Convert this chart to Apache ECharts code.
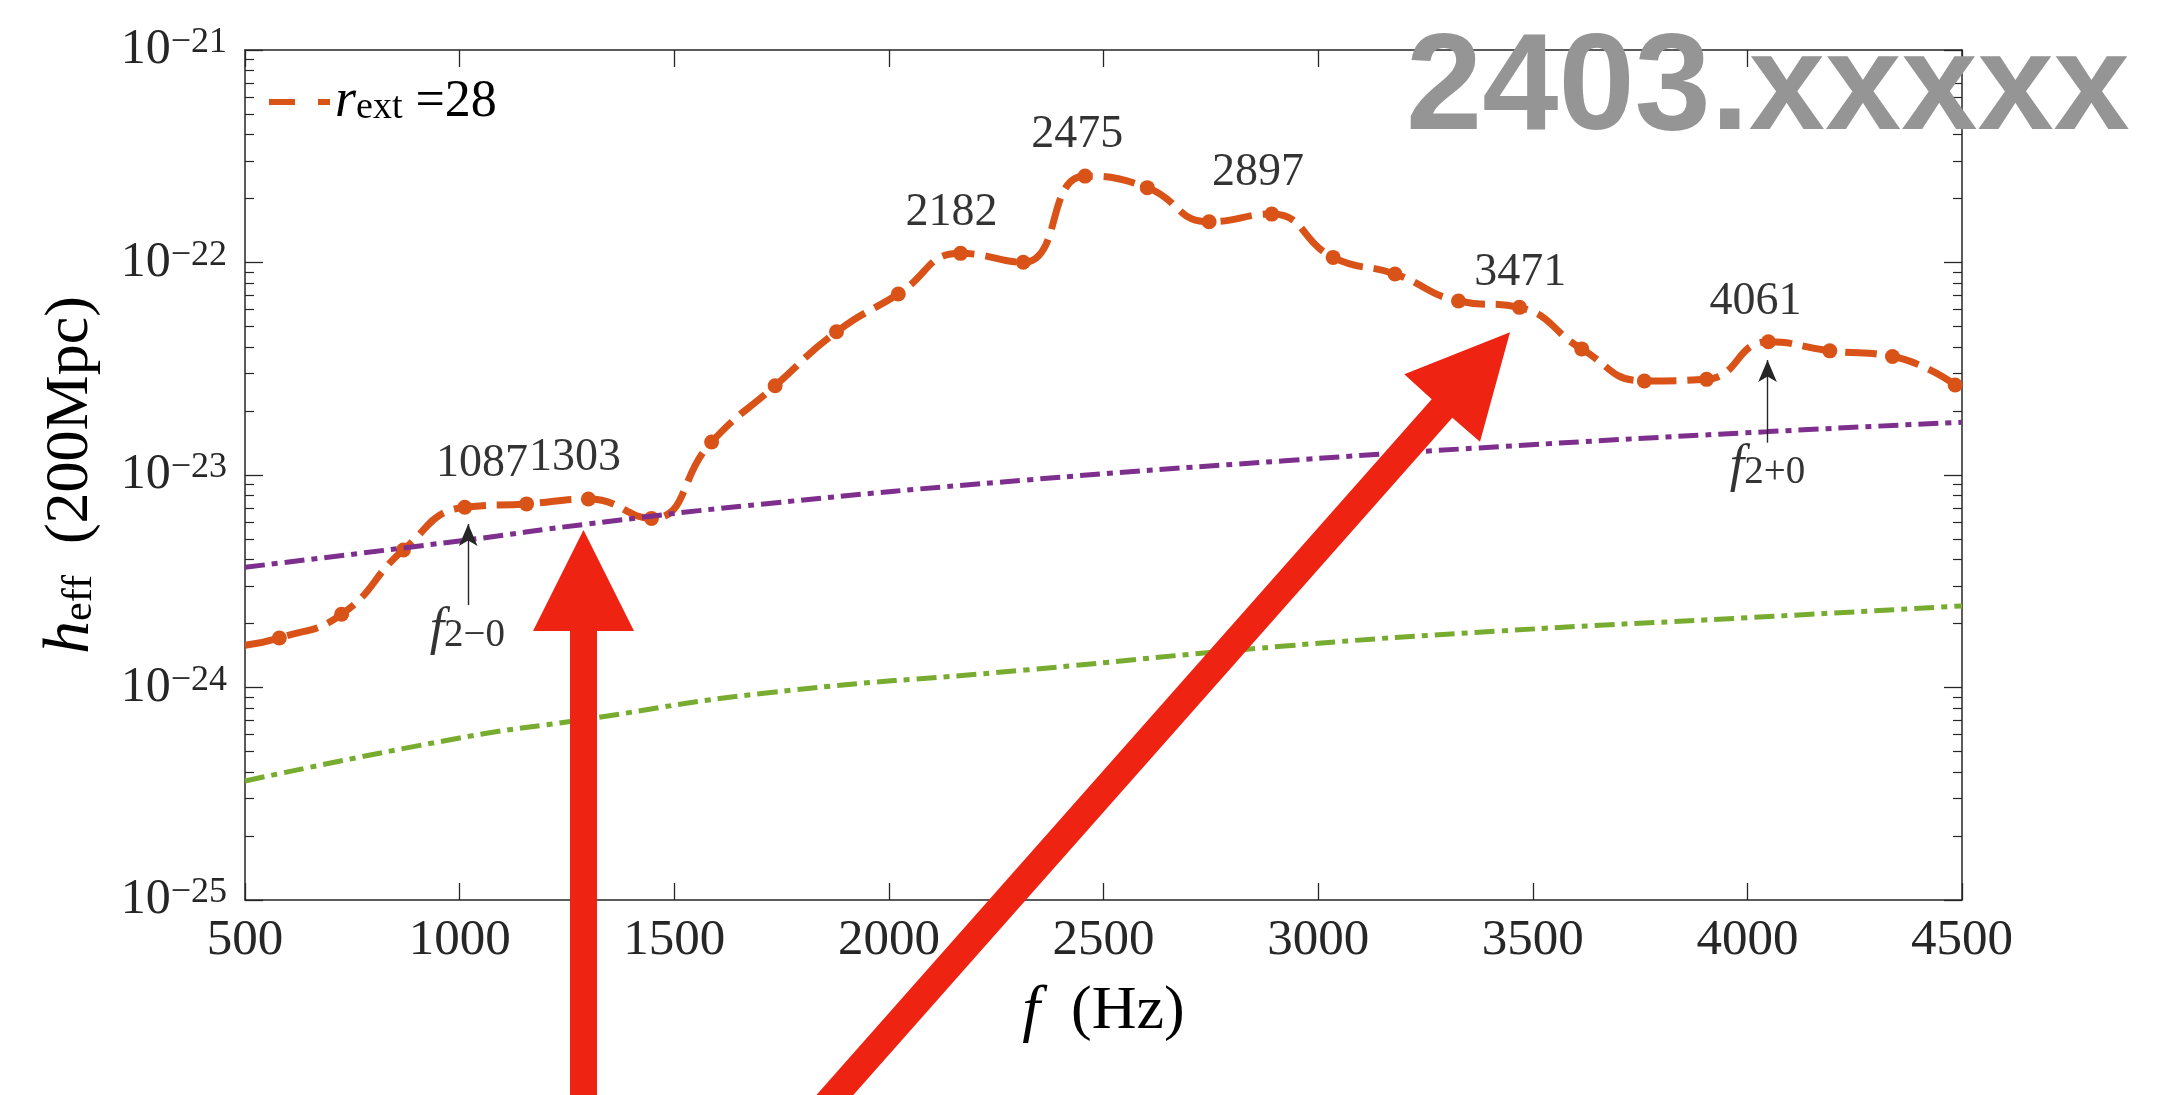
<!DOCTYPE html>
<html><head><meta charset="utf-8">
<script src="https://cdn.jsdelivr.net/npm/echarts@6/dist/echarts.min.js"></script>
<style>html,body{margin:0;padding:0;background:#fff}#c{width:2182px;height:1095px}</style>
</head><body><div id="c"></div>
<script>
// ---- data ----
const orangeF = [500, 580, 725, 869, 1012, 1156, 1300, 1447, 1587, 1735, 1878, 2022, 2167, 2313, 2457, 2602, 2746, 2892, 3035, 3179, 3327, 3469, 3614, 3760, 3905, 4049, 4192, 4338, 4484];
const orangeH = [1.58e-24, 1.71e-24, 2.21e-24, 4.44e-24, 7.05e-24, 7.31e-24, 7.71e-24, 6.25e-24, 1.43e-23, 2.63e-23, 4.72e-23, 7.11e-23, 1.104e-22, 1.002e-22, 2.55e-22, 2.25e-22, 1.555e-22, 1.69e-22, 1.057e-22, 8.83e-23, 6.59e-23, 6.15e-23, 3.92e-23, 2.77e-23, 2.82e-23, 4.24e-23, 3.84e-23, 3.61e-23, 2.65e-23];
const purpleF = [500, 1016, 1292, 1709, 2317, 2922, 3424, 4048, 4500];
const purpleH = [3.68e-24, 4.94e-24, 5.86e-24, 7.31e-24, 9.46e-24, 1.167e-23, 1.36e-23, 1.60e-23, 1.77e-23];
const greenF = [500, 997, 1292, 1709, 2317, 2922, 3424, 4000, 4500];
const greenH = [3.63e-25, 5.77e-25, 7.08e-25, 9.40e-25, 1.208e-24, 1.567e-24, 1.845e-24, 2.13e-24, 2.42e-24];
const xMin = 500, xMax = 4500, xStep = 500;
const yDecadeMin = -25, yDecadeMax = -21;
const peakText = ['1087', '1303', '2182', '2475', '2897', '3471', '4061'];
const peakF = [1052, 1269, 2146, 2439, 2860, 3471, 4019];
const peakH = [1.132e-23, 1.197e-23, 1.718e-22, 3.98e-22, 2.636e-22, 8.93e-23, 6.52e-23];
const modeText = ['{i|f}{s|2\u22120}', '{i|f}{s|2+0}'];
const modeF = [1018, 4047];
const modeH = [1.866e-24, 1.091e-23];
const arrowF = [1020, 4047];
const arrowFromH = [2.443e-24, 1.419e-23];
const arrowToH = [5.875e-24, 3.475e-23];
const legendName = 'r_ext=28';

// ---- build ----
const L = v => Math.log10(v);
const SERIF = '"Liberation Serif", "DejaVu Serif", serif';
const AX = '#262626';

const orangeData = orangeF.map((f, i) => {
  const item = { value: [f, L(orangeH[i])] };
  if (i === 0) item.symbol = 'none';
  return item;
});
const purpleData = purpleF.map((f, i) => [f, L(purpleH[i])]);
const greenData = greenF.map((f, i) => [f, L(greenH[i])]);
const labelData = peakText.map((t, i) => [peakF[i], L(peakH[i]), t])
  .concat(modeText.map((t, i) => [modeF[i], L(modeH[i]), t]));
const arrowData = arrowF.map((f, i) => [{ coord: [f, L(arrowFromH[i])] }, { coord: [f, L(arrowToH[i])] }]);

const minorTicks = [];
for (let n = yDecadeMin; n < yDecadeMax; n++) for (let k = 2; k <= 9; k++) minorTicks.push(n + Math.log10(k));

const yMajor = {
  type: 'value', min: yDecadeMin, max: yDecadeMax, interval: 1,
  axisLine: { show: true, lineStyle: { color: AX, width: 1.5 } },
  axisTick: { show: true, inside: true, length: 18, lineStyle: { color: AX, width: 1.3 } },
  splitLine: { show: false }
};
const yMinor = (pos) => ({
  type: 'value', min: yDecadeMin, max: yDecadeMax, position: pos,
  axisLine: { show: false },
  axisTick: { show: true, inside: true, length: 9, customValues: minorTicks, lineStyle: { color: AX, width: 1.2 } },
  axisLabel: { show: false }, splitLine: { show: false }
});

const option = {
  animation: false,
  backgroundColor: '#fff',
  grid: { left: 245, right: 220, top: 50, bottom: 195, containLabel: false },
  legend: {
    data: [legendName], left: 269, top: 75, padding: 0,
    itemWidth: 61, itemHeight: 7,
    icon: 'path://M0,0L26,0L26,6L0,6ZM49,0L61,0L61,6L49,6Z',
    itemStyle: { borderWidth: 0 },
    formatter: () => '{i|r}{s|ext}{n| =28}',
    textStyle: {
      lineHeight: 50,
      rich: {
        i: { fontFamily: SERIF, fontStyle: 'italic', fontSize: 54, lineHeight: 50, color: '#000' },
        s: { fontFamily: SERIF, fontSize: 38, lineHeight: 28, verticalAlign: 'bottom', color: '#000' },
        n: { fontFamily: SERIF, fontSize: 52, lineHeight: 50, color: '#000' }
      }
    }
  },
  xAxis: [{
    type: 'value', min: xMin, max: xMax, interval: xStep, position: 'bottom',
    name: '{i|f}{n|  (Hz)}', nameLocation: 'middle', nameGap: 82,
    nameTextStyle: { rich: {
      i: { fontFamily: SERIF, fontStyle: 'italic', fontSize: 64, lineHeight: 60, color: '#000' },
      n: { fontFamily: SERIF, fontSize: 62, lineHeight: 60, color: '#000' } } },
    axisLine: { show: true, lineStyle: { color: AX, width: 1.5 } },
    axisTick: { show: true, inside: true, length: 17, lineStyle: { color: AX, width: 1.3 } },
    axisLabel: { margin: 15, fontFamily: SERIF, fontSize: 51, color: AX, formatter: v => String(v) },
    splitLine: { show: false }
  }, {
    type: 'value', min: xMin, max: xMax, interval: xStep, position: 'top',
    axisLine: { show: true, lineStyle: { color: AX, width: 1.5 } },
    axisTick: { show: true, inside: true, length: 17, lineStyle: { color: AX, width: 1.3 } },
    axisLabel: { show: false }, splitLine: { show: false }
  }],
  yAxis: [
    Object.assign({}, yMajor, {
      position: 'left',
      name: '{i|h}{s|eff}{n|  (200Mpc)}', nameLocation: 'middle', nameGap: 144, nameRotate: 90,
      nameTextStyle: { rich: {
        i: { fontFamily: SERIF, fontStyle: 'italic', fontSize: 66, lineHeight: 60, color: '#000' },
        s: { fontFamily: SERIF, fontSize: 42, lineHeight: 34, verticalAlign: 'bottom', color: '#000' },
        n: { fontFamily: SERIF, fontSize: 62, lineHeight: 60, color: '#000' } } },
      axisLabel: {
        margin: 18,
        formatter: v => '{b|10}{s|\u2212' + Math.abs(Math.round(v)) + '}',
        rich: {
          b: { fontFamily: SERIF, fontSize: 50, lineHeight: 50, color: AX },
          s: { fontFamily: SERIF, fontSize: 36, lineHeight: 15, verticalAlign: 'top', color: AX }
        }
      }
    }),
    yMinor('left'),
    Object.assign({}, yMajor, { position: 'right', axisLabel: { show: false } }),
    yMinor('right')
  ],
  series: [{
    name: legendName, type: 'line', xAxisIndex: 0, yAxisIndex: 0,
    data: orangeData, smooth: 0.5,
    symbol: 'circle', symbolSize: 15,
    itemStyle: { color: '#D95319', borderWidth: 0 },
    lineStyle: { color: '#D95319', width: 7, type: [32, 11] },
    z: 3
  }, {
    name: 'purple', type: 'line', data: purpleData, smooth: true, symbol: 'none',
    lineStyle: { color: '#7E2F8E', width: 5, type: [20, 7, 6, 7] }, z: 4
  }, {
    name: 'green', type: 'line', data: greenData, smooth: true, symbol: 'none',
    lineStyle: { color: '#77AC30', width: 5, type: [20, 7, 6, 7] }, z: 4
  }, {
    name: 'labels', type: 'scatter', data: labelData, symbolSize: 1,
    itemStyle: { color: 'rgba(0,0,0,0)' }, silent: true, z: 5,
    label: {
      show: true, position: 'inside', formatter: p => p.data[2],
      fontFamily: SERIF, fontSize: 46, color: '#000', lineHeight: 50,
      rich: {
        i: { fontFamily: SERIF, fontStyle: 'italic', fontSize: 52, lineHeight: 50, color: '#000' },
        s: { fontFamily: SERIF, fontSize: 39, lineHeight: 22, verticalAlign: 'bottom', color: '#000' }
      }
    },
    markLine: {
      silent: true, symbol: ['none', 'arrow'], symbolSize: [14, 22],
      label: { show: false },
      lineStyle: { color: AX, width: 1.4, type: 'solid' },
      emphasis: { disabled: true },
      data: arrowData
    }
  }],
  graphic: [
    { type: 'polygon', z: 100, shape: { points: [[570, 1100], [570, 631], [533, 631], [583.5, 530], [634, 631], [597, 631], [597, 1100]] }, style: { fill: '#EF2312' } },
    { type: 'polygon', z: 100, shape: { points: [[812, 1100], [1431.7, 399.3], [1404.3, 374.3], [1510, 332.3], [1480, 441.7], [1452.3, 417.7], [848.9, 1100]] }, style: { fill: '#EF2312' } },
    { type: 'text', z: 101, x: 1406, y: 91, style: { text: '2403.xxxxx', font: 'bold 137px "Liberation Sans", Arial, sans-serif', fill: '#959595', verticalAlign: 'middle', align: 'left' } }
  ]
};
const chart = echarts.init(document.getElementById('c'), null, { renderer: 'canvas' });
chart.setOption(option);
</script></body></html>
